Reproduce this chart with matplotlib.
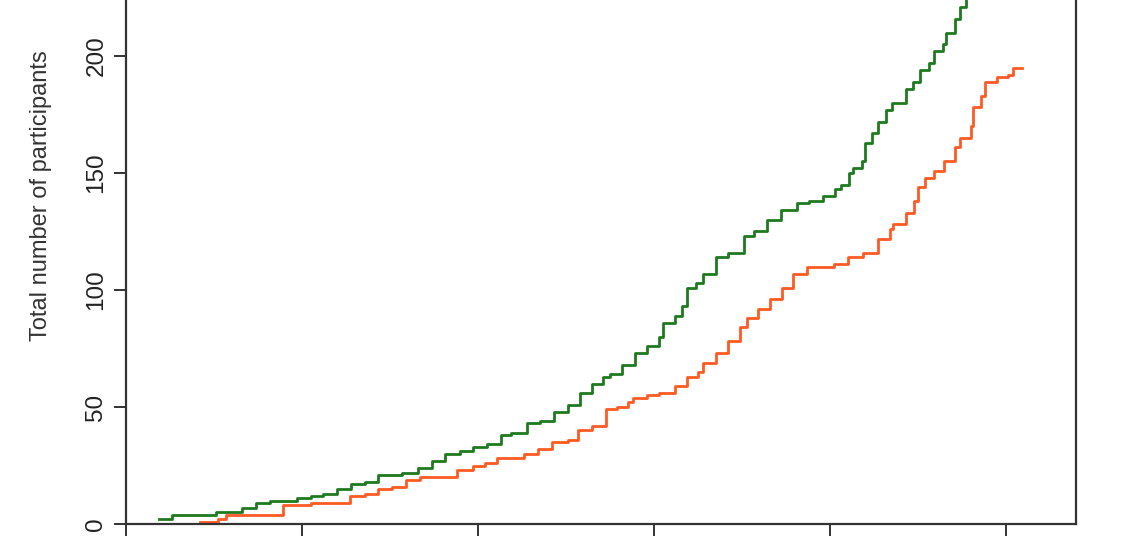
import matplotlib
matplotlib.use("Agg")
import matplotlib.pyplot as plt

plt.rcParams['font.family'] = ['Liberation Sans', 'DejaVu Sans']

# cumulative participants, step series (x in axis units, tick spacing = 1)
green_x = [0.19, 0.26, 0.51, 0.66, 0.74, 0.82, 0.97, 1.05, 1.12, 1.20, 1.28, 1.36,
           1.43, 1.57, 1.66, 1.74, 1.81, 1.90, 1.97, 2.05, 2.13, 2.19, 2.28, 2.35,
           2.43, 2.51, 2.58, 2.65, 2.71, 2.75, 2.82, 2.89, 2.96, 3.03, 3.05, 3.12,
           3.16, 3.19, 3.24, 3.28, 3.35, 3.42, 3.51, 3.57, 3.64, 3.72, 3.81, 3.88,
           3.96, 4.03, 4.06, 4.11, 4.13, 4.18, 4.20, 4.24, 4.27, 4.32, 4.35, 4.43,
           4.47, 4.51, 4.56, 4.59, 4.64, 4.66, 4.71, 4.74, 4.77, 4.80]
green_y = [2, 4, 5, 7, 9, 10, 11, 12, 13, 15, 17, 18,
           21, 22, 24, 27, 30, 31, 33, 34, 38, 39, 43, 44,
           48, 51, 56, 60, 63, 64, 68, 73, 76, 80, 86, 89,
           93, 101, 103, 107, 114, 116, 123, 125, 130, 134, 137, 138,
           140, 143, 145, 150, 152, 155, 163, 167, 172, 177, 180, 186,
           189, 194, 197, 202, 205, 210, 216, 221, 225, 229]

orange_x = [0.42, 0.52, 0.57, 0.89, 1.05, 1.27, 1.36, 1.43, 1.51, 1.59, 1.67, 1.88,
            1.97, 2.04, 2.11, 2.26, 2.34, 2.42, 2.51, 2.57, 2.65, 2.73, 2.79, 2.85,
            2.88, 2.96, 3.03, 3.12, 3.19, 3.25, 3.28, 3.35, 3.42, 3.49, 3.53, 3.59,
            3.66, 3.73, 3.79, 3.87, 4.02, 4.10, 4.19, 4.27, 4.34, 4.36, 4.43, 4.48,
            4.50, 4.54, 4.59, 4.65, 4.71, 4.74, 4.80, 4.81, 4.86, 4.88, 4.95, 5.01,
            5.04, 5.09]
orange_y = [1, 2, 4, 8, 9, 12, 13, 15, 16, 19, 20, 23,
            25, 26, 28, 30, 32, 35, 36, 40, 42, 49, 50, 52,
            54, 55, 56, 59, 63, 65, 69, 73, 78, 84, 88, 92,
            96, 101, 107, 110, 111, 114, 116, 122, 126, 128, 133, 138,
            144, 148, 151, 155, 161, 165, 170, 178, 183, 189, 191, 192,
            195, 195]

x_ticks = [0, 1, 2, 3, 4, 5]
y_ticks = [0, 50, 100, 150, 200]

W, H = 1140, 550
fig = plt.figure(figsize=(W / 100, H / 100), dpi=100)
ymax = 281
px_per_unit = 2.34
ax = fig.add_axes([126 / W, 26 / H, 950 / W, ymax * px_per_unit / H])

ax.plot(green_x, green_y, drawstyle='steps-post', color='#1e7a1e', lw=2.0)
ax.plot(orange_x, orange_y, drawstyle='steps-post', color='#ff5a22', lw=2.0)

ax.set_xlim(0, 950 / 176)
ax.set_ylim(0, ymax)
ax.set_xticks(x_ticks)
ax.set_xticklabels([])
ax.set_yticks(y_ticks)
ax.set_yticklabels([str(v) for v in y_ticks], rotation=90, va='center', fontsize=17.5,
                   color='#222222')
ax.tick_params(axis='both', direction='out', length=8.5, width=1.4, color='#333333', pad=5)
for s in ax.spines.values():
    s.set_linewidth(1.6)
    s.set_color('#333333')

ax.set_ylabel("Total number of participants", fontsize=17, color='#333333', labelpad=24)

fig.savefig("out.png", dpi=100)
